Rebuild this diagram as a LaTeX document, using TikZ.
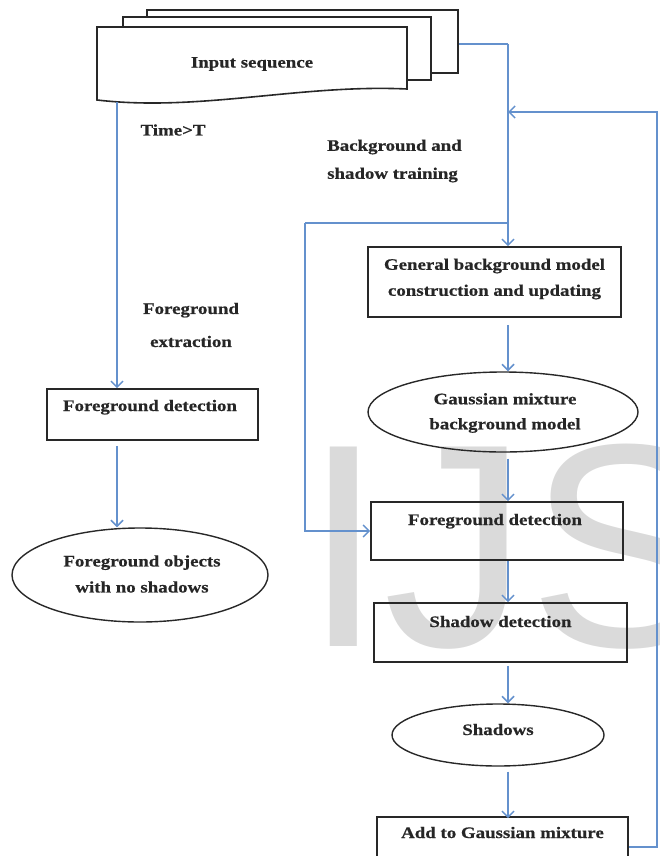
\documentclass[tikz,border=0pt]{standalone}
\usepackage{fontspec}
\setmainfont[FakeStretch=1.18,FakeBold=0.6]{Liberation Serif}
\newfontfamily\wmfont{Liberation Sans}
\usetikzlibrary{arrows.meta,shapes.geometric,calc}
\definecolor{conncol}{RGB}{100,145,205}
\definecolor{boxcol}{RGB}{40,40,40}
\definecolor{wmcol}{RGB}{218,218,218}
\tikzset{
  txt/.style={font=\bfseries\fontsize{16}{26}\selectfont, text=black!85, inner sep=0pt, align=center},
  stepbox/.style={draw=boxcol, line width=1.6pt, rectangle, inner sep=0pt},
  sheet/.style={draw=boxcol, line width=1.6pt, fill=white, rectangle, inner sep=0pt},
  oval/.style={draw=boxcol, line width=1.4pt, ellipse, inner sep=0pt},
  conn/.style={draw=conncol, line width=1.5pt, -{Straight Barb[length=6pt,width=12pt,line width=1.5pt]}},
  plainconn/.style={draw=conncol, line width=1.5pt}
}
\begin{document}
\begin{tikzpicture}[x=1pt,y=-1pt]
\useasboundingbox (0,0) rectangle (659,856);
\clip (0,0) rectangle (659,856);
% watermark
\node[anchor=base west, inner sep=0pt, font=\wmfont\fontsize{290}{290}\selectfont, text=wmcol] (wm) at (303,646) {IJS};

% stacked input sheets
\node[sheet, minimum width=311pt, minimum height=63pt] (s3) at (302.5,41.5) {};
\node[sheet, minimum width=308pt, minimum height=63pt] (s2) at (277,48.5) {};
\draw[boxcol, line width=1.6pt, fill=white] (97,27) -- (407,27) -- (407,89) .. controls (300,84) and (200,112) .. (97,100) -- cycle;
\node[txt] (inp) at (252,64) {Input sequence};

% left column
\node[stepbox, minimum width=211pt, minimum height=51pt] (fdl) at (152.5,414.5) {};
\node[txt, anchor=base] (fdlt) at (150,411) {Foreground detection};
\node[oval, minimum width=256pt, minimum height=94pt] (ell1) at (140,575) {};
\node[txt] (ell1t) at (142,574) {Foreground objects\\with no shadows};

% right column
\node[stepbox, minimum width=253pt, minimum height=70pt] (gen) at (494.5,282) {};
\node[txt] (gent) at (494.5,279) {General background model\\construction and updating};
\node[oval, minimum width=270pt, minimum height=80pt] (gmm) at (503,412) {};
\node[txt, font=\bfseries\fontsize{16}{25}\selectfont] (gmmt) at (505,413) {Gaussian mixture\\background model};
\node[stepbox, minimum width=252pt, minimum height=58pt] (fdr) at (497,531) {};
\node[txt, anchor=base] (fdrt) at (495,525) {Foreground detection};
\node[stepbox, minimum width=253pt, minimum height=59pt] (sd) at (500.5,632.5) {};
\node[txt, anchor=base] (sdt) at (500.5,627) {Shadow detection};
\node[oval, minimum width=212pt, minimum height=62pt] (sh) at (498,735) {};
\node[txt, anchor=base] (sht) at (498,735) {Shadows};
\node[stepbox, minimum width=251pt, minimum height=60pt] (add) at (502.5,847) {};
\node[txt, anchor=base] (addt) at (502.5,838) {Add to Gaussian mixture};

% labels
\node[txt] (l1) at (173,130) {Time>T};
\node[txt, align=left, anchor=west, font=\bfseries\fontsize{16}{28}\selectfont] (l2) at (327,161) {Background and\\shadow training};
\node[txt, font=\bfseries\fontsize{16}{33}\selectfont] (l3) at (191,325) {Foreground\\extraction};

% junction coordinates
\coordinate (t0) at (117,102);
\coordinate (j1) at (508,44);
\coordinate (j2) at (508,223);
\coordinate (j3) at (305,223);
\coordinate (fb1) at (657,847);
\coordinate (fb2) at (657,112);
\coordinate (fb3) at (508,112);

% connectors
\draw[conn] (t0) -- (t0 |- fdl.north);
\draw[conn] ([yshift=-5pt]fdl.south -| t0) -- (t0 |- ell1.north);
\draw[plainconn] (s3.east |- j1) -- (j1);
\draw[conn] (j1) -- (j1 |- gen.north);
\draw[plainconn] (j2) -- (j3);
\draw[conn] (j3) |- (fdr.west);
\draw[conn] ([yshift=-7pt]gen.south -| j1) -- (j1 |- gmm.north);
\draw[conn] ([yshift=-6pt]gmm.south -| j1) -- (j1 |- fdr.north);
\draw[conn] (fdr.south -| j1) -- (j1 |- sd.north);
\draw[conn] ([yshift=-3pt]sd.south -| j1) -- (j1 |- sh.north);
\draw[conn] ([yshift=-5pt]sh.south -| j1) -- ([yshift=-2pt]j1 |- add.north);
\draw[conn] (add.east |- fb1) -- (fb1) -- (fb2) -- (fb3);
\end{tikzpicture}
\end{document}
